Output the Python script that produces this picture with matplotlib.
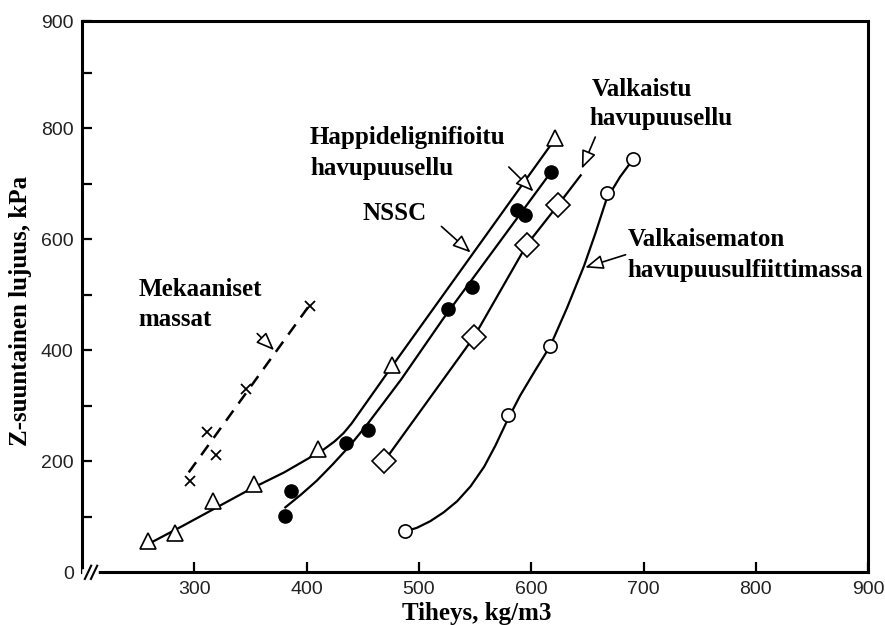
import numpy as np
import matplotlib
matplotlib.use("Agg")
import matplotlib.pyplot as plt

# --- data (density kg/m3, strength kPa) ---
nssc_x = [259, 283, 317, 353, 410, 476, 621]
nssc_y = [56, 71, 128, 159, 223, 373, 782]
nssc_cx = [260, 290, 320, 350, 380, 404, 415, 425, 433, 440, 476, 621]
nssc_cy = [52, 84, 117, 150, 180, 208, 221, 236, 251, 268, 371, 780]

happi_x = [381, 386, 435, 455, 526, 547, 587, 594, 618]
happi_y = [101, 147, 233, 257, 474, 513, 653, 644, 721]
happi_cx = [381, 395, 409, 423, 438, 453, 468, 484, 522, 618]
happi_cy = [117, 140, 165, 194, 227, 264, 304, 347, 458, 722]

valk_x = [469, 549, 596, 624]
valk_y = [200, 424, 590, 662]
valk_cx = [469, 549, 596, 624, 644]
valk_cy = [200, 424, 590, 662, 715]

sulf_x = [488, 579, 617, 667, 691]
sulf_y = [74, 283, 408, 683, 745]
sulf_cx = [488, 498, 510, 522, 534, 546, 558, 568, 579, 590, 603, 617,
           632, 647, 657, 667, 679, 691]
sulf_cy = [74, 80, 92, 108, 128, 155, 190, 228, 275, 318, 362, 408,
           477, 552, 610, 672, 712, 745]

mek_x = [296, 311, 319, 346, 403]
mek_y = [165, 253, 211, 330, 480]
mek_cx = [295, 405]
mek_cy = [180, 488]

x_ticks = [300, 400, 500, 600, 700, 800, 900]
y_ticks = [0, 200, 400, 600, 800]
y_top = 993

serif = dict(family="Liberation Serif", fontweight="bold", fontsize=18)

fig = plt.figure(figsize=(8.85, 6.25), dpi=100)
ax = fig.add_axes([0.0927, 0.0843, 0.8883, 0.8821])

# curves
ax.plot(nssc_cx, nssc_cy, color="k", lw=1.6, zorder=2)
ax.plot(happi_cx, happi_cy, color="k", lw=1.6, zorder=2)
ax.plot(valk_cx, valk_cy, color="k", lw=1.6, zorder=2)
ax.plot(sulf_cx, sulf_cy, color="k", lw=1.6, zorder=2)
ax.plot(mek_cx, mek_cy, color="k", lw=1.8, ls=(0, (5, 3.5)), zorder=2)

# markers
ax.plot(nssc_x, nssc_y, ls="none", marker="^", ms=11, mfc="white", mec="k", mew=1.2, zorder=3)
ax.plot(happi_x, happi_y, ls="none", marker="o", ms=9.5, mfc="k", mec="k", zorder=3)
ax.plot(valk_x, valk_y, ls="none", marker="D", ms=12, mfc="white", mec="k", mew=1.2, zorder=3)
ax.plot(sulf_x, sulf_y, ls="none", marker="o", ms=9.5, mfc="white", mec="k", mew=1.2, zorder=3)
ax.plot(mek_x, mek_y, ls="none", marker="x", ms=7.5, mec="k", mew=1.3, zorder=3)

# labels with arrows
arrow = dict(arrowstyle="-|>,head_length=0.55,head_width=0.22", fc="white", ec="k",
             lw=1.2, mutation_scale=20, shrinkA=0, shrinkB=0)
ax.annotate("", xy=(371, 400), xytext=(356, 430), arrowprops=arrow)
ax.annotate("", xy=(546, 576), xytext=(520, 623), arrowprops=arrow)
ax.annotate("", xy=(602, 686), xytext=(580, 730), arrowprops=arrow)
ax.annotate("", xy=(645, 727), xytext=(657, 784), arrowprops=arrow)
ax.annotate("", xy=(648, 549), xytext=(684, 572), arrowprops=arrow)

ax.text(250, 509, "Mekaaniset", ha="left", va="center", **serif)
ax.text(250, 456, "massat", ha="left", va="center", **serif)
ax.text(403, 784, "Happidelignifioitu", ha="left", va="center", **serif)
ax.text(403, 727, "havupuusellu", ha="left", va="center", **serif)
ax.text(450, 647, "NSSC", ha="left", va="center", **serif)
ax.text(654, 870, "Valkaistu", ha="left", va="center", **serif)
ax.text(652, 817, "havupuusellu", ha="left", va="center", **serif)
ax.text(686, 599, "Valkaisematon", ha="left", va="center", **serif)
ax.text(686, 543, "havupuusulfiittimassa", ha="left", va="center", **serif)

# axes
ax.set_xlim(200, 900)
ax.set_ylim(0, y_top)
ax.set_xticks(x_ticks)
ax.set_xticklabels([str(v) for v in x_ticks])
ax.set_yticks(y_ticks + [y_top])
ax.set_yticklabels([str(v) for v in y_ticks] + ["900"])
ax.set_yticks([100, 300, 500, 700, 900], minor=True)
ax.tick_params(which="both", direction="in", length=7, width=1.6, pad=6,
               labelsize=14, labelcolor="#222222", top=False, right=False)
for lab in ax.get_xticklabels() + ax.get_yticklabels():
    lab.set_family("Liberation Sans")
for s in ax.spines.values():
    s.set_linewidth(2.2)

# axis break on the x axis
tr = ax.transAxes
ax.plot([0.004, 0.018], [0, 0], color="white", lw=4, transform=tr, clip_on=False, zorder=5)
for x0 in (0.0076, 0.0153):
    ax.plot([x0 - 0.004, x0 + 0.004], [-0.012, 0.012], color="k", lw=1.5,
            transform=tr, clip_on=False, zorder=6)

fig.text(0.539, 0.019, "Tiheys, kg/m3", ha="center", va="center", **serif)
fig.text(0.023, 0.502, "Z-suuntainen lujuus, kPa", ha="center", va="center",
         rotation=90, **serif)

fig.savefig("out.png", dpi=100, facecolor="white")
